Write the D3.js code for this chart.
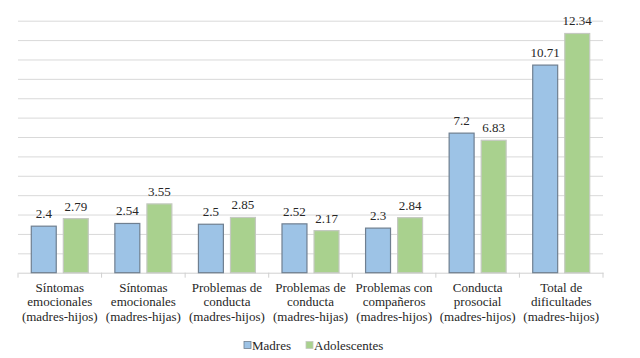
<!DOCTYPE html>
<html>
<head>
<meta charset="utf-8">
<script src="https://cdn.jsdelivr.net/npm/d3@7"></script>
<style>
  body { margin: 0; background: #fff; }
</style>
</head>
<body>
<svg id="chart" width="640" height="358"></svg>
<script>
const categories = [
  ["Síntomas", "emocionales", "(madres-hijos)"],
  ["Síntomas", "emocionales", "(madres-hijas)"],
  ["Problemas de", "conducta", "(madres-hijos)"],
  ["Problemas de", "conducta", "(madres-hijas)"],
  ["Problemas con", "compañeros", "(madres-hijos)"],
  ["Conducta", "prosocial", "(madres-hijos)"],
  ["Total de", "dificultades", "(madres-hijos)"]
]
const madres = [2.4, 2.54, 2.5, 2.52, 2.3, 7.2, 10.71]
const adolescentes = [2.79, 3.55, 2.85, 2.17, 2.84, 6.83, 12.34]
const seriesNames = ["Madres", "Adolescentes"]
const yTicks = d3.range(0, 14)

const serif = "Liberation Serif"
const textColor = "#262626"

let svg = d3.select("#chart")
let margin = { top: 20.7, right: 37, bottom: 85.3, left: 18 }
let width = 640 - margin.left - margin.right
let height = 358 - margin.top - margin.bottom

let colors = ["#9dc3e6", "#a9d18e"]
let borders = ["#6f7f90", "#c4c9c0"]

let g = svg.append("g")
    .attr("transform", "translate(" + margin.left + "," + margin.top + ")")

let xScale = d3.scaleBand()
    .domain(d3.range(categories.length))
    .range([0, width])

let xInner = d3.scaleBand()
    .domain([0, 1])
    .range([xScale.bandwidth() / 2 - 29, xScale.bandwidth() / 2 + 29])
    .paddingInner(0.19)

let yScale = d3.scaleLinear()
    .domain([0, 13])
    .range([height, 0])

// gridlines
g.append("g")
    .call(d3.axisLeft(yScale).tickValues(yTicks.slice(1)).tickSize(-width).tickFormat(""))
    .call(a => a.select(".domain").remove())
    .call(a => a.selectAll("line").attr("stroke", "#d9d9d9"))

// x axis
let gX = g.append("g")
    .attr("transform", "translate(0," + height + ")")
    .call(d3.axisBottom(xScale).tickSize(0).tickFormat(""))
gX.select(".domain").attr("stroke", "#d0d0d0")
gX.selectAll(".tick").remove()
gX.selectAll(".sep")
    .data(d3.range(categories.length + 1))
    .enter().append("line")
    .attr("x1", d => d * xScale.step())
    .attr("x2", d => d * xScale.step())
    .attr("y1", 0).attr("y2", 5)
    .attr("stroke", "#d0d0d0")

let data = [madres, adolescentes]

data.forEach((vals, s) => {
    g.selectAll(".bar" + s)
        .data(vals)
        .enter().append("rect")
        .attr("x", (d, i) => xScale(i) + xInner(s) + 0.5)
        .attr("y", d => yScale(d))
        .attr("width", xInner.bandwidth() - 1)
        .attr("height", d => height - yScale(d))
        .attr("fill", colors[s])
        .attr("stroke", borders[s])
        .attr("stroke-width", 1.2)

    g.selectAll(".lbl" + s)
        .data(vals)
        .enter().append("text")
        .attr("x", (d, i) => xScale(i) + xInner(s) + xInner.bandwidth() / 2)
        .attr("y", d => yScale(d) - 8)
        .attr("text-anchor", "middle")
        .style("font-family", serif)
        .style("font-size", "13px")
        .style("fill", textColor)
        .text(d => d)
})

// category labels
let cat = g.selectAll(".cat")
    .data(categories)
    .enter().append("text")
    .attr("text-anchor", "middle")
    .style("font-family", serif)
    .style("font-size", "13px")
    .style("fill", textColor)
    .attr("transform", (d, i) => "translate(" + (xScale(i) + xScale.bandwidth() / 2) + "," + (height + 19) + ")")
cat.selectAll("tspan")
    .data(d => d)
    .enter().append("tspan")
    .attr("x", 0)
    .attr("y", (d, i) => i * 14.7)
    .text(d => d)

// legend
let legend = svg.append("g").attr("transform", "translate(244,345)")
let lx = [0, 62]
seriesNames.forEach((name, i) => {
    legend.append("rect")
        .attr("x", lx[i]).attr("y", -3.5)
        .attr("width", 7).attr("height", 7)
        .attr("fill", colors[i])
        .attr("stroke", borders[i])
        .attr("stroke-width", 0.8)
    legend.append("text")
        .attr("x", lx[i] + 8).attr("y", 4.5)
        .style("font-family", serif)
        .style("font-size", "13px")
        .style("fill", textColor)
        .text(name)
})
</script>
</body>
</html>
